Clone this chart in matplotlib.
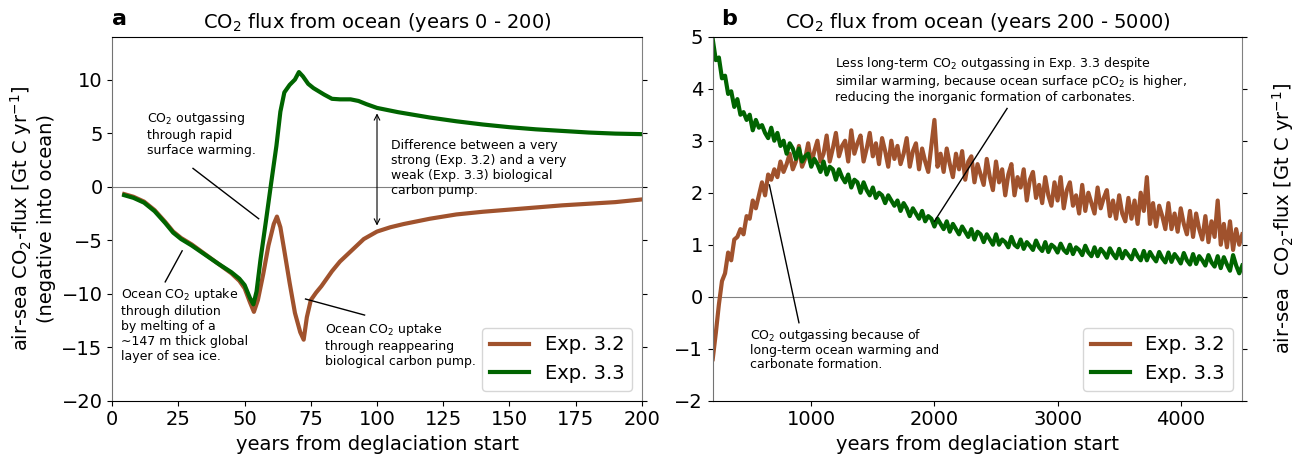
import matplotlib
matplotlib.use("Agg")
import matplotlib.pyplot as plt

# ---------------- Panel a data (years 0-200) ----------------
years_a_32 = [4.5, 8, 12, 16, 20, 23, 26, 30, 35, 40, 45, 48, 50, 52, 53.5, 55, 57, 59, 61, 62.2,
              63.5, 65, 67, 69, 71, 72.3, 73.5, 75, 77, 79, 81, 83, 86, 89, 92, 95, 100, 105, 110,
              115, 120, 130, 140, 150, 160, 170, 180, 190, 200]
flux_a_32 = [-0.7, -0.95, -1.4, -2.2, -3.3, -4.2, -4.8, -5.4, -6.3, -7.2, -8.1, -8.8, -9.5, -10.8,
             -11.7, -10.6, -8.2, -5.5, -3.5, -2.8, -3.8, -6.0, -9.0, -11.8, -13.6, -14.3, -12.2,
             -10.6, -9.9, -9.3, -8.6, -7.9, -7.0, -6.3, -5.6, -4.9, -4.2, -3.8, -3.5, -3.25, -3.0,
             -2.6, -2.35, -2.15, -1.95, -1.75, -1.6, -1.45, -1.2]

years_a_33 = [4.5, 8, 12, 16, 20, 23, 26, 30, 35, 40, 45, 48, 50, 52, 53.3, 54.5, 56, 58, 60, 62,
              63.5, 65, 67, 69, 70.5, 72, 74, 76, 78, 80, 83, 86, 90, 93, 96, 100, 104, 108, 114,
              120, 130, 140, 150, 160, 170, 180, 190, 200]
flux_a_33 = [-0.8, -1.05, -1.5, -2.3, -3.4, -4.3, -4.9, -5.5, -6.35, -7.2, -8.0, -8.6, -9.2, -10.4,
             -11.0, -9.8, -6.8, -3.3, 0.3, 3.8, 7.0, 8.8, 9.5, 10.0, 10.7, 10.3, 9.6, 9.2, 8.9, 8.6,
             8.2, 8.15, 8.15, 8.0, 7.7, 7.35, 7.15, 6.95, 6.7, 6.45, 6.1, 5.8, 5.55, 5.35, 5.2, 5.05,
             4.95, 4.9]

# ---------------- Panel b data (years 200-4500, every 25 years) ----------------
years_b = list(range(200, 4501, 25))
flux_b_32 = [
    -1.2, -0.7, -0.15, 0.3,    0.45, 0.85, 0.7, 1.1,    1.15, 1.3, 1.2, 1.55,
    1.5, 1.85, 1.7, 1.95,      2.2, 1.95, 2.35, 2.25,   2.45, 2.3, 2.6, 2.4,
    2.55, 2.75, 2.45, 2.6,     2.9, 2.5, 2.65, 2.95,    2.55, 2.8, 3.0, 2.6,
    2.75, 3.1, 2.6, 2.85,      3.15, 2.7, 2.9, 3.0,     2.6, 3.2, 2.75, 2.95,
    3.1, 2.6, 2.85, 3.15,      2.7, 2.95, 2.55, 3.05,   2.8, 2.5, 3.0, 2.65,
    2.9, 2.55, 2.75, 3.05,     2.5, 2.8, 2.95, 2.45,    2.85, 2.6, 2.4, 2.9,
    3.4, 2.5, 2.75, 2.4,       2.85, 2.55, 2.3, 2.75,   2.45, 2.8, 2.25, 2.6,
    2.7, 2.2, 2.55, 2.35,      2.15, 2.65, 2.3, 2.05,   2.6, 2.2, 2.45, 1.95,
    2.35, 2.55, 1.95, 2.3,     2.1, 2.45, 1.85, 2.25,   2.4, 1.9, 2.15, 1.8,
    2.3, 1.95, 1.75, 2.2,      1.85, 2.3, 1.7, 2.05,    2.2, 1.75, 1.95, 1.6,
    2.15, 1.65, 2.0, 1.8,      1.6, 2.1, 1.7, 1.9,      2.05, 1.55, 1.85, 1.5,
    1.95, 1.6, 1.45, 1.9,      1.5, 1.85, 1.4, 2.0,     1.65, 2.3, 1.4, 1.8,
    1.35, 1.75, 1.55, 1.3,     1.8, 1.3, 1.6, 1.25,     1.7, 1.4, 1.2, 1.65,
    1.15, 1.6, 1.3, 1.1,       1.55, 1.05, 1.45, 1.15,  1.85, 1.0, 1.4, 0.95,
    1.45, 0.9, 1.3, 1.0,       1.2]
flux_b_33 = [
    4.95, 4.55, 4.6, 4.2,      4.25, 3.9, 3.95, 3.65,   3.8, 3.5, 3.55, 3.4,
    3.5, 3.2, 3.4, 3.25,       3.3, 3.15, 3.05, 3.25,   3.0, 3.15, 2.9, 3.0,
    2.75, 2.95, 2.85, 2.65,    2.85, 2.6, 2.7, 2.75,    2.5, 2.65, 2.55, 2.4,
    2.6, 2.35, 2.5, 2.45,      2.25, 2.45, 2.3, 2.2,    2.35, 2.1, 2.25, 2.2,
    2.0, 2.2, 2.05, 1.95,      2.1, 1.9, 2.0, 1.95,     1.8, 1.95, 1.85, 1.75,
    1.85, 1.65, 1.8, 1.7,      1.55, 1.7, 1.6, 1.5,     1.65, 1.45, 1.55, 1.5,
    1.35, 1.5, 1.4, 1.3,       1.45, 1.25, 1.4, 1.3,    1.2, 1.35, 1.25, 1.15,
    1.3, 1.1, 1.25, 1.2,       1.05, 1.2, 1.1, 1.0,     1.2, 1.0, 1.1, 1.05,
    0.95, 1.15, 1.0, 0.95,     1.1, 0.92, 1.05, 0.98,   0.9, 1.08, 0.95, 0.88,
    1.05, 0.86, 1.0, 0.95,     0.85, 1.02, 0.9, 0.84,   1.0, 0.82, 0.95, 0.9,
    0.8, 0.98, 0.85, 0.78,     0.95, 0.78, 0.92, 0.85,  0.75, 0.93, 0.82, 0.74,
    0.92, 0.74, 0.88, 0.8,     0.72, 0.9, 0.78, 0.7,    0.88, 0.7, 0.86, 0.76,
    0.68, 0.86, 0.74, 0.66,    0.85, 0.67, 0.82, 0.74,  0.64, 0.84, 0.7, 0.62,
    0.82, 0.63, 0.78, 0.7,     0.6, 0.8, 0.66, 0.58,    0.78, 0.55, 0.76, 0.62,
    0.5, 0.8, 0.6, 0.45,       0.6]

labels = ["Exp. 3.2", "Exp. 3.3"]
c32 = "#a0522d"
c33 = "#006400"

FS = 14
plt.rcParams['font.family'] = ['DejaVu Sans']

fig = plt.figure(figsize=(12.98, 4.55), dpi=100)
axa = fig.add_axes([0.0865, 0.1193, 0.4079, 0.800])
axb = fig.add_axes([0.5491, 0.1193, 0.4080, 0.800])

def style(ax):
    ax.spines['left'].set_color('0.45')
    ax.spines['right'].set_color('0.5')
    ax.tick_params(axis='y', right=True, labelsize=FS)
    ax.tick_params(axis='x', labelsize=FS)
    ax.axhline(0, color='grey', lw=0.8, zorder=1)

# ---- Panel a ----
axa.plot(years_a_32, flux_a_32, color=c32, lw=3, label=labels[0])
axa.plot(years_a_33, flux_a_33, color=c33, lw=3, label=labels[1])
style(axa)
axa.set_xlim(0, 200)
axa.set_ylim(-20, 14)
axa.set_xticks(range(0, 201, 25))
axa.set_yticks(range(-20, 11, 5))
axa.set_xlabel("years from deglaciation start", fontsize=FS)
axa.set_ylabel("air-sea CO$_2$-flux [Gt C yr$^{-1}$]\n(negative into ocean)", fontsize=FS)
axa.set_title("CO$_2$ flux from ocean (years 0 - 200)", fontsize=FS)
axa.text(0.0, 1.02, "a", transform=axa.transAxes, fontsize=16, fontweight='bold', va='bottom')
axa.legend(loc='lower right', fontsize=FS)

afs = 9
axa.text(13, 7.2, "CO$_2$ outgassing\nthrough rapid\nsurface warming.",
         fontsize=afs, va='top', ha='left')
axa.plot([30.5, 55.3], [1.7, -3.0], color='k', lw=1)
axa.annotate("", xy=(100, 7.1), xytext=(100, -3.9),
             arrowprops=dict(arrowstyle='<->', color='k', lw=0.8))
axa.text(105.4, 4.4, "Difference between a very\nstrong (Exp. 3.2) and a very\nweak (Exp. 3.3) biological\ncarbon pump.",
         fontsize=afs, va='top', ha='left')
axa.text(3.3, -9.3, "Ocean CO$_2$ uptake\nthrough dilution\nby melting of a\n\u223c147 m thick global\nlayer of sea ice.",
         fontsize=afs, va='top', ha='left')
axa.plot([20, 26.4], [-8.9, -6.0], color='k', lw=1)
axa.text(80.4, -12.6, "Ocean CO$_2$ uptake\nthrough reappearing\nbiological carbon pump.",
         fontsize=afs, va='top', ha='left')
axa.plot([73, 95.3], [-10.5, -12.0], color='k', lw=1)

# ---- Panel b ----
axb.plot(years_b, flux_b_32, color=c32, lw=3, label=labels[0])
axb.plot(years_b, flux_b_33, color=c33, lw=3, label=labels[1])
style(axb)
axb.set_xlim(200, 4500)
axb.set_ylim(-2, 5)
axb.set_xticks([1000, 2000, 3000, 4000])
axb.set_yticks(range(-2, 6))
axb.set_xlabel("years from deglaciation start", fontsize=FS)
axb.set_title("CO$_2$ flux from ocean (years 200 - 5000)", fontsize=FS)
axb.text(0.015, 1.02, "b", transform=axb.transAxes, fontsize=16, fontweight='bold', va='bottom')
axb.text(1.077, 0.5, "air-sea  CO$_2$-flux [Gt C yr$^{-1}$]", transform=axb.transAxes,
         rotation=90, ha='center', va='center', fontsize=FS)
axb.legend(loc='lower right', fontsize=FS)
axb.text(1193, 4.64, "Less long-term CO$_2$ outgassing in Exp. 3.3 despite\nsimilar warming, because ocean surface pCO$_2$ is higher,\nreducing the inorganic formation of carbonates.",
         fontsize=afs, va='top', ha='left', linespacing=1.05)
axb.plot([2590, 2000], [3.62, 1.45], color='k', lw=1)
axb.text(503, -0.58, "CO$_2$ outgassing because of\nlong-term ocean warming and\ncarbonate formation.",
         fontsize=afs, va='top', ha='left', linespacing=1.05)
axb.plot([900, 660], [-0.5, 2.15], color='k', lw=1)

fig.savefig("out.png", dpi=100)
